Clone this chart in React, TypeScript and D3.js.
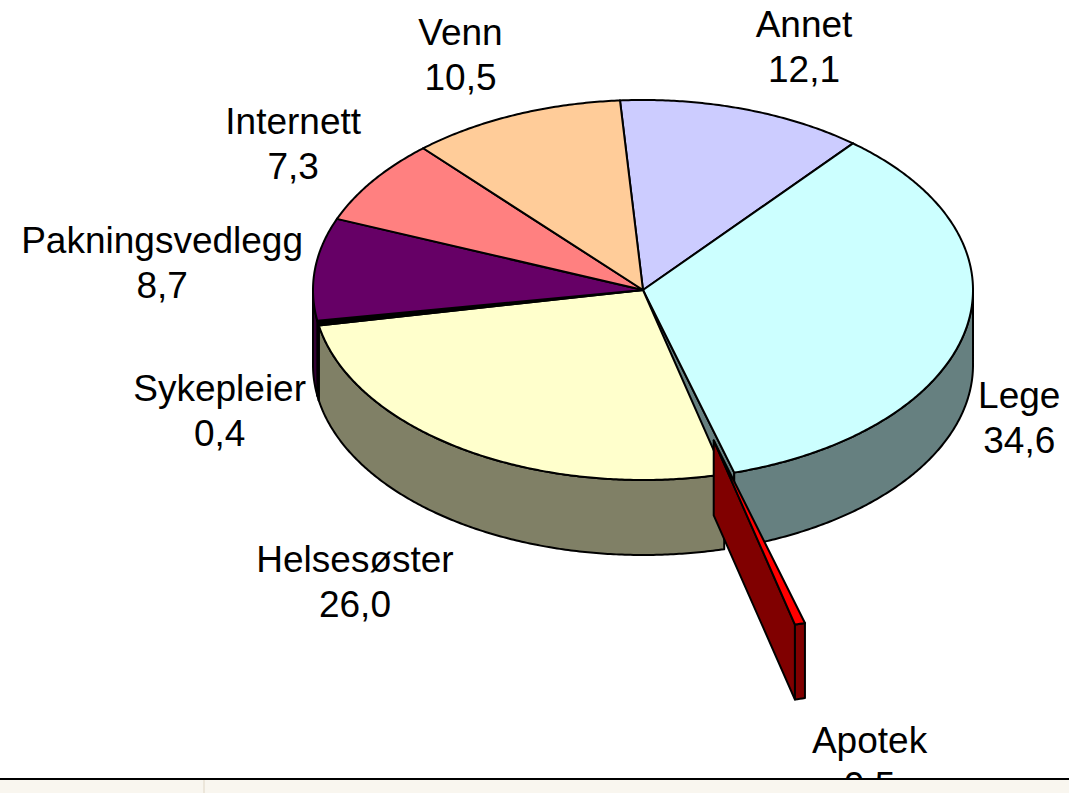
import React from "react";
import * as d3 from "d3";

// slices clockwise from (almost) 12 o'clock
const categories = ["Annet", "Lege", "Apotek", "Helsesøster", "Sykepleier", "Pakningsvedlegg", "Internett", "Venn"];
const values = [12.1, 34.6, 0.5, 26.0, 0.4, 8.7, 7.3, 10.5];
const colors = ["#ccccff", "#ccffff", "#ff0000", "#ffffcc", "#000000", "#660066", "#ff8080", "#ffcc99"];
const explodedCategory = "Apotek";

const width = 1069;
const height = 793;
const cx = 643;
const cy = 290;
const rx = 330;
const ry = 190;
const depth = 75;
const startAngle = (-4 * Math.PI) / 180;
const explode = 0.82;
const fontSize = 37;
const fontFamily = '"Liberation Sans", Arial, sans-serif';
const lineGap = 45;

const fmt = d3
  .formatLocale({ decimal: ",", thousands: " ", grouping: [3], currency: ["", ""] })
  .format(".1f");

type P = [number, number];

function pt(a: number, dz = 0, ox = 0, oy = 0): P {
  return [cx + ox + rx * Math.sin(a), cy + oy - ry * Math.cos(a) + dz];
}

function arcPts(a0: number, a1: number, dz: number, ox: number, oy: number): P[] {
  const n = Math.max(2, Math.ceil(Math.abs(a1 - a0) / (Math.PI / 360)) + 1);
  return d3.range(n).map((k) => pt(a0 + ((a1 - a0) * k) / (n - 1), dz, ox, oy));
}

const line = d3.line();

function half(c: string) {
  const r = d3.rgb(c);
  return d3.rgb(r.r / 2, r.g / 2, r.b / 2).formatHex();
}

let measureCtx: CanvasRenderingContext2D | null = null;
function textWidth(s: string) {
  if (!measureCtx) {
    measureCtx = document.createElement("canvas").getContext("2d");
  }
  if (!measureCtx) return s.length * fontSize * 0.55;
  measureCtx.font = `${fontSize}px ${fontFamily}`;
  return measureCtx.measureText(s).width;
}

export default function App() {
  const pie = d3
    .pie<number>()
    .sort(null)
    .value((d) => d)
    .startAngle(startAngle)
    .endAngle(startAngle + 2 * Math.PI);
  const arcs = pie(values);

  const slices = arcs.map((a, i) => {
    const mid = (a.startAngle + a.endAngle) / 2;
    const isEx = categories[i] === explodedCategory;
    const ox = isEx ? explode * rx * Math.sin(mid) : 0;
    const oy = isEx ? -explode * ry * Math.cos(mid) : 0;
    const a0 = a.startAngle;
    const a1 = a.endAngle;
    const color = colors[i];
    const side = half(color);
    const c: P = [cx + ox, cy + oy];

    const top = line([c, ...arcPts(a0, a1, 0, ox, oy)]) + "Z";

    const w0 = Math.max(a0, Math.PI / 2);
    const w1 = Math.min(a1, (3 * Math.PI) / 2);
    const wall = w0 < w1 ? line([...arcPts(w0, w1, 0, ox, oy), ...arcPts(w1, w0, depth, ox, oy)]) + "Z" : null;

    const faces: string[] = [];
    const face = (t: number) =>
      line([c, pt(t, 0, ox, oy), pt(t, depth, ox, oy), [c[0], c[1] + depth]]) + "Z";
    if (Math.sin(a0) < 0) faces.push(face(a0));
    if (Math.sin(a1) > 0) faces.push(face(a1));

    // label: box pushed outward from the rim at mid angle
    const name = categories[i];
    const val = fmt(values[i]);
    const halfW = Math.max(textWidth(name), textWidth(val)) / 2;
    const s = Math.sin(mid);
    const co = Math.cos(mid);
    const [ex, ey] = pt(mid, co < 0 ? depth : 0, ox, oy);
    const lx = ex + Math.sign(s) * (halfW + 12);
    const ly = ey - co * (36 + 30);

    return { name, val, color, side, top, wall, faces, isEx, lx, ly };
  });

  const normal = slices.filter((d) => !d.isEx);
  const exploded = slices.filter((d) => d.isEx);
  const stroke = { stroke: "#000", strokeWidth: 2, strokeLinejoin: "round" as const };

  return (
    <svg width={width} height={height} style={{ position: "absolute", left: 0, top: 0, background: "#fff" }}>
      <rect width={width} height={height} fill="#fff" />
      <g>
        {normal.map((d) => d.faces.map((f, k) => <path key={d.name + k} d={f} fill={d.side} {...stroke} />))}
        {normal.map((d) => (d.wall ? <path key={d.name} d={d.wall} fill={d.side} {...stroke} /> : null))}
        {normal.map((d) => (
          <path key={d.name} d={d.top} fill={d.color} {...stroke} />
        ))}
        {exploded.map((d) => (
          <g key={d.name}>
            {d.faces.map((f, k) => (
              <path key={k} d={f} fill={d.side} {...stroke} />
            ))}
            {d.wall ? <path d={d.wall} fill={d.side} {...stroke} /> : null}
            <path d={d.top} fill={d.color} {...stroke} />
          </g>
        ))}
      </g>
      <g fontFamily={fontFamily} fontSize={fontSize} fill="#000" textAnchor="middle">
        {slices.map((d) => (
          <text key={d.name} x={d.lx} y={d.ly - 9}>
            <tspan x={d.lx}>{d.name}</tspan>
            <tspan x={d.lx} dy={lineGap}>
              {d.val}
            </tspan>
          </text>
        ))}
      </g>
      <rect x={0} y={779} width={width} height={height - 779} fill="#f9f6ef" />
      <line x1={204} x2={204} y1={780} y2={height} stroke="#ece6da" strokeWidth={2} />
      <line x1={0} x2={width} y1={779} y2={779} stroke="#000" strokeWidth={2} />
    </svg>
  );
}
